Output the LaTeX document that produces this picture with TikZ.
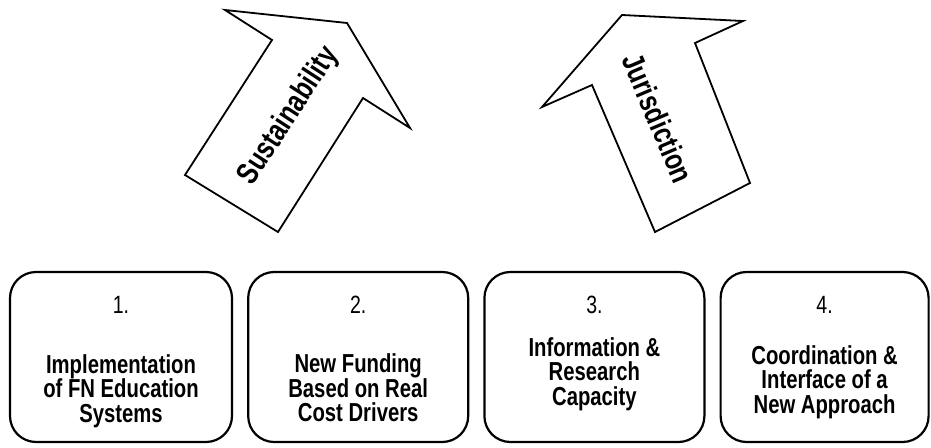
\documentclass[tikz,border=0pt]{standalone}
\usepackage{fontspec}
\setmainfont{Liberation Sans}[FakeStretch=0.78]
\usetikzlibrary{positioning}

\tikzset{
	box/.style={draw, line width=2.2pt, rounded corners=26pt, minimum height=170pt, inner sep=0pt},
	num/.style={anchor=base, font=\fontsize{25}{25}\selectfont},
	txt/.style={align=center, font=\bfseries\fontsize{26}{24.5}\selectfont},
	bigarrow/.style={draw, line width=1.8pt, line join=miter},
	arrowtxt/.style={font=\bfseries\fontsize{31}{31}\selectfont}
}

\begin{document}
\begin{tikzpicture}[x=1pt, y=-1pt, node distance=14pt]
	\useasboundingbox (0,0) rectangle (931,447);

	\draw[bigarrow] (225,10) -- (347,23) -- (410,128) -- (363,98) -- (278,232) -- (185,175) -- (272,40) -- cycle;
	\draw[bigarrow] (542,107) -- (622,15) -- (743,21) -- (695,43) -- (750,183) -- (655,232) -- (592,85) -- cycle;
	\node[arrowtxt, rotate=57]	(S) at (289,116)	{Sustainability};
	\node[arrowtxt, rotate=-67]	(J) at (658,118)	{Jurisdiction};

	\node[box, minimum width=222pt]	(B1) at (121,357)	{};
	\node[box, minimum width=220pt]	(B2) [right	=of B1]	{};
	\node[box, minimum width=220pt]	(B3) [right	=of B2]	{};
	\node[box, minimum width=208pt]	(B4) [right	=of B3]	{};

	\node[num]	(N1) at ([yshift=-43pt]B1.north)	{1.};
	\node[num]	(N2) at ([yshift=-43pt]B2.north)	{2.};
	\node[num]	(N3) at ([yshift=-43pt]B3.north)	{3.};
	\node[num]	(N4) at ([yshift=-43pt]B4.north)	{4.};

	\node[txt]	(T1) at ([yshift=-120pt]B1.north)	{Implementation\\of FN Education\\Systems};
	\node[txt]	(T2) at ([yshift=-117pt]B2.north)	{New Funding\\Based on Real\\Cost Drivers};
	\node[txt]	(T3) at ([yshift=-103pt]B3.north)	{Information \&\\Research\\Capacity};
	\node[txt]	(T4) at ([yshift=-111pt]B4.north)	{Coordination \&\\Interface of a\\New Approach};
\end{tikzpicture}
\end{document}
